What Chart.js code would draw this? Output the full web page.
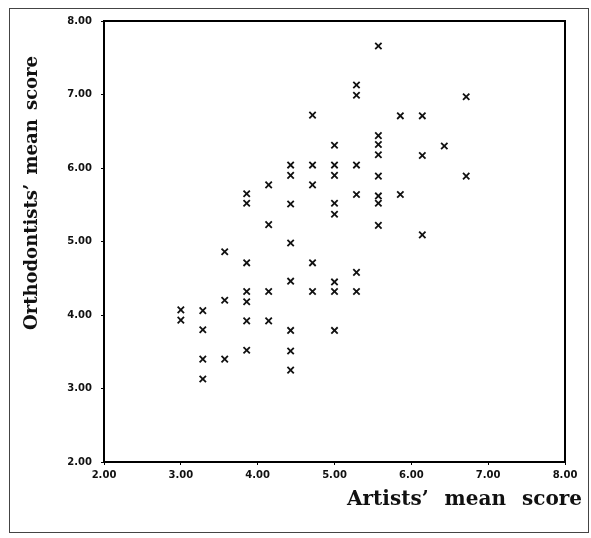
<!DOCTYPE html>
<html>
<head>
<meta charset="utf-8">
<script src="https://cdn.jsdelivr.net/npm/chart.js@4"></script>
<style>
  html, body { margin: 0; padding: 0; background: #fff; }
  #wrap { width: 591px; height: 538px; position: relative; }
</style>
</head>
<body>
<div id="wrap"><canvas id="c" width="591" height="538"></canvas></div>
<script>
// Artists' mean score (x) and orthodontists' mean score (y)
const artistsScores = [
  3.000, 3.000,
  3.286, 3.286, 3.286, 3.286,
  3.571, 3.571, 3.571,
  3.857, 3.857, 3.857, 3.857, 3.857, 3.857, 3.857,
  4.143, 4.143, 4.143, 4.143,
  4.429, 4.429, 4.429, 4.429, 4.429, 4.429, 4.429, 4.429,
  4.714, 4.714, 4.714, 4.714, 4.714,
  5.000, 5.000, 5.000, 5.000, 5.000, 5.000, 5.000, 5.000,
  5.286, 5.286, 5.286, 5.286, 5.286, 5.286,
  5.571, 5.571, 5.571, 5.571, 5.571, 5.571, 5.571, 5.571,
  5.857, 5.857,
  6.143, 6.143, 6.143,
  6.429,
  6.714, 6.714
];
const orthodontistsScores = [
  4.07, 3.93,
  4.06, 3.80, 3.40, 3.13,
  4.86, 4.20, 3.40,
  5.65, 5.52, 4.71, 4.32, 4.18, 3.92, 3.52,
  5.77, 5.23, 4.32, 3.92,
  6.04, 5.90, 5.51, 4.98, 4.46, 3.79, 3.51, 3.25,
  6.72, 6.04, 5.77, 4.71, 4.32,
  6.31, 6.04, 5.90, 5.52, 5.37, 4.45, 4.32, 3.79,
  7.13, 6.99, 6.04, 5.64, 4.58, 4.32,
  7.66, 6.44, 6.32, 6.18, 5.89, 5.62, 5.52, 5.22,
  6.71, 5.64,
  6.71, 6.17, 5.09,
  6.30,
  6.97, 5.89
];
const xTitle = "Artists\u2019 mean score";
const yTitle = "Orthodontists\u2019 mean score";
const axisMin = 2, axisMax = 8, axisStep = 1;

const points = artistsScores.map((x, i) => ({ x: x, y: orthodontistsScores[i] }));

const decor = {
  id: 'decor',
  beforeDraw(chart) {
    const ctx = chart.ctx;
    ctx.save();
    ctx.fillStyle = '#fff';
    ctx.fillRect(0, 0, chart.width, chart.height);
    ctx.strokeStyle = '#444';
    ctx.lineWidth = 1;
    ctx.strokeRect(9.5, 8.5, 579, 524);
    ctx.restore();
  },
  afterDraw(chart) {
    const ctx = chart.ctx;
    const a = chart.chartArea;
    ctx.save();
    ctx.strokeStyle = '#000';
    ctx.lineWidth = 2;
    ctx.strokeRect(a.left, a.top, a.right - a.left, a.bottom - a.top);
    ctx.fillStyle = '#111';
    ctx.font = 'bold 20px "DejaVu Serif"';
    ctx.textAlign = 'right';
    ctx.textBaseline = 'alphabetic';
    ctx.wordSpacing = '9px';
    ctx.fillText(xTitle, 582, 505);
    ctx.font = 'bold 18px "DejaVu Serif"';
    ctx.wordSpacing = '3px';
    ctx.translate(37, 193);
    ctx.rotate(-Math.PI / 2);
    ctx.textAlign = 'center';
    ctx.fillText(yTitle, 0, 0);
    ctx.restore();
  }
};

new Chart(document.getElementById('c'), {
  type: 'scatter',
  data: {
    datasets: [{
      data: points,
      pointStyle: 'crossRot',
      pointRadius: 4.5,
      pointHoverRadius: 4.5,
      borderColor: '#111',
      backgroundColor: '#111',
      borderWidth: 1.8
    }]
  },
  options: {
    responsive: false,
    animation: false,
    events: [],
    layout: { padding: { left: 0, right: 26, top: 21, bottom: 0 } },
    plugins: { legend: { display: false }, tooltip: { enabled: false } },
    scales: {
      x: {
        type: 'linear',
        min: axisMin, max: axisMax,
        afterFit(s) { s.height = 76; },
        border: { display: true, color: '#000', width: 2 },
        grid: { drawOnChartArea: false, drawTicks: true, tickLength: 3, color: '#000' },
        ticks: {
          stepSize: axisStep, padding: 4, color: '#111',
          font: { family: '"DejaVu Sans"', size: 10, weight: 'bold' },
          callback: v => v.toFixed(2), maxRotation: 0
        }
      },
      y: {
        type: 'linear',
        min: axisMin, max: axisMax,
        afterFit(s) { s.width = 104; },
        border: { display: true, color: '#000', width: 2 },
        grid: { drawOnChartArea: false, drawTicks: true, tickLength: 3, color: '#000' },
        ticks: {
          stepSize: axisStep, padding: 9, color: '#111',
          font: { family: '"DejaVu Sans"', size: 10, weight: 'bold' },
          callback: v => v.toFixed(2)
        }
      }
    }
  },
  plugins: [decor]
});
</script>
</body>
</html>
